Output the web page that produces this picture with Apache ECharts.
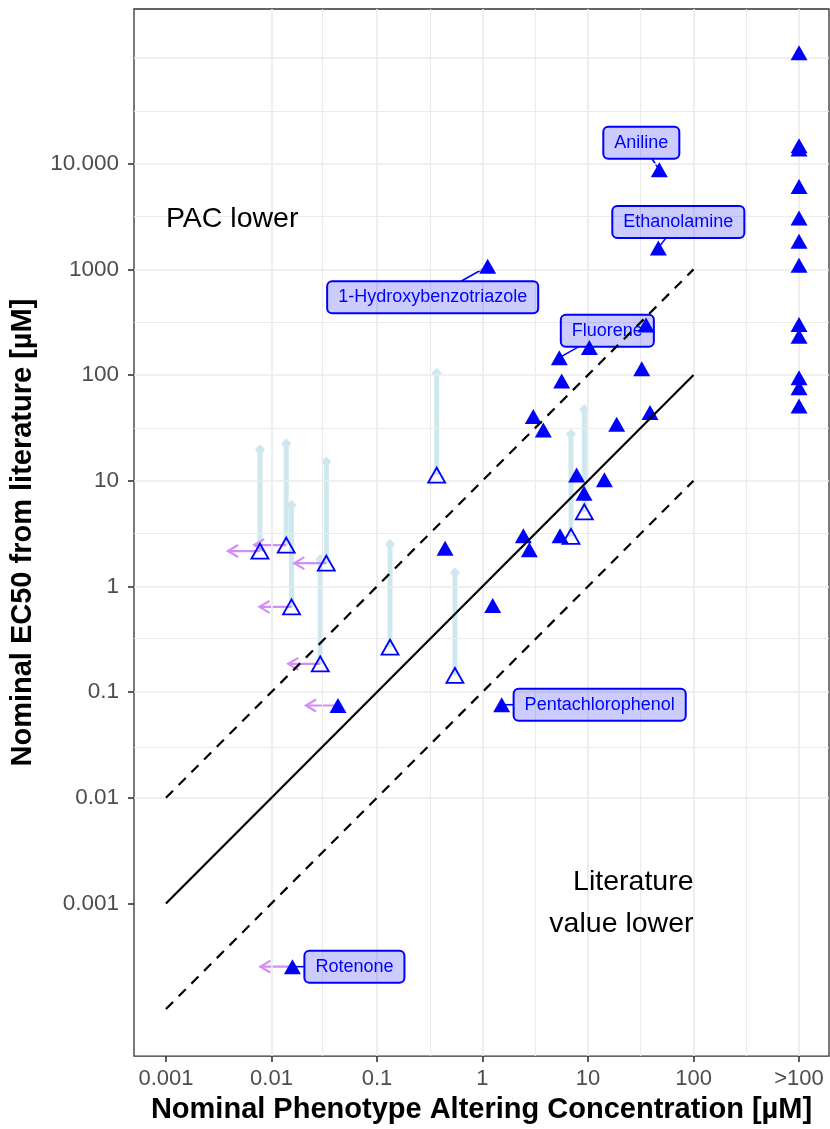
<!DOCTYPE html>
<html>
<head>
<meta charset="utf-8">
<script src="https://cdn.jsdelivr.net/npm/echarts@6/dist/echarts.min.js"></script>
<style>
  html, body { margin: 0; padding: 0; background: #ffffff; }
  #chart { width: 830px; height: 1129px; }
</style>
</head>
<body>
<div id="chart"></div>
<script>
// ---------------- DATA ----------------
// Axis ticks
const xTickValues = [0.001, 0.01, 0.1, 1, 10, 100, 1000];
const xTickLabels = ['0.001', '0.01', '0.1', '1', '10', '100', '>100'];
const yTickValues = [0.001, 0.01, 0.1, 1, 10, 100, 1000, 10000];
const yTickLabels = ['0.001', '0.01', '0.1', '1', '10', '100', '1000', '10.000'];

// Filled triangles: PAC measured (x) vs literature EC50 (y)
const filledPAC  = [0.0427, 0.0158, 0.442, 1.25, 1.52, 2.44, 2.78, 3.03, 3.77, 5.43, 7.8, 9.17, 14.3, 18.7, 38.7, 32.3, 5.63, 5.35, 10.3, 47.4, 46.4, 1.12, 35.5];
const filledEC50 = [0.0746, 0.000252, 2.29, 0.658, 0.0759, 3.01, 2.22, 40.5, 30.2, 3.01, 11.3, 7.63, 10.2, 34.2, 44.2, 115, 87.7, 146, 182, 8770, 1597, 1071, 297];
const filledNames = ['', 'Rotenone', '', '', 'Pentachlorophenol', '', '', '', '', '', '', '', '', '', '', '', '', 'Fluorene', '', 'Aniline', 'Ethanolamine', '1-Hydroxybenzotriazole', ''];
const filledPACLessThan = [true, true, false, false, false, false, false, false, false, false, false, false, false, false, false, false, false, false, false, false, false, false, false];

// PAC above tested range (">100")
const aboveRangePAC = 1000; // plotted at the ">100" tick
const aboveRangeEC50 = [112000, 14800, 13800, 6100, 3070, 1845, 1094, 301, 233, 94.5, 76.0, 50.9];

// Open triangles: literature EC50 given as a range (low .. high)
const openPAC      = [0.00778, 0.0138, 0.0155, 0.0331, 0.0290, 0.368, 0.133, 0.548, 6.9, 9.23];
const openEC50     = [2.16, 2.46, 0.640, 1.66, 0.185, 11.3, 0.266, 0.1436, 2.97, 5.08];
const openEC50High = [19.9, 22.6, 5.92, 15.2, 1.82, 105, 2.52, 1.36, 27.9, 47.4];
const openPACLessThan = [true, true, true, true, true, false, false, false, false, false];

// Reference lines
const refLineX = [0.001, 100];
const identityY = [0.001, 100];
const upperY = [0.01, 1000];
const lowerY = [0.0001, 10];

// Annotations
const annotationText = ['PAC lower', 'Literature\nvalue lower'];
const annotationX = [0.001, 100];
const annotationY = [3000, 0.001];

// Gridline breaks (major + minor midpoints in log space)
const xGridBreaks = [0.001, 0.00316, 0.01, 0.0316, 0.1, 0.316, 1, 3.16, 10, 31.6, 100, 316, 1000];
const yGridBreaks = [0.0001, 0.000316, 0.001, 0.00316, 0.01, 0.0316, 0.1, 0.316, 1, 3.16, 10, 31.6, 100, 316, 1000, 3160, 10000, 31600, 100000];

// ---------------- STYLE ----------------
const BLUE = '#0000ff';
const FONT = '"Liberation Sans", Arial, Helvetica, sans-serif';
const LABEL_FONT_SIZE = 18;
const LABEL_PAD = [7, 11];
const labelOffsets = {
  'Aniline': [-18, -27],
  'Ethanolamine': [20, -26],
  '1-Hydroxybenzotriazole': [-55, 31],
  'Fluorene': [48, -27],
  'Pentachlorophenol': [98, 0],
  'Rotenone': [62, 0]
};

const measureCtx = document.createElement('canvas').getContext('2d');
measureCtx.font = LABEL_FONT_SIZE + 'px ' + FONT;
function labelBoxSize(text) {
  return [measureCtx.measureText(text).width + 2 * LABEL_PAD[1], LABEL_FONT_SIZE + 2 * LABEL_PAD[0]];
}

function tickLabel(values, labels) {
  return function (v) {
    const e = Math.round(Math.log10(v));
    for (let i = 0; i < values.length; i++) {
      if (Math.round(Math.log10(values[i])) === e) return labels[i];
    }
    return '';
  };
}

const chart = echarts.init(document.getElementById('chart'), null, { renderer: 'canvas' });

const gridLineData = [];
xGridBreaks.forEach(function (v) {
  const major = Math.abs(Math.log10(v) - Math.round(Math.log10(v))) < 0.01;
  gridLineData.push({ xAxis: v, lineStyle: { width: major ? 1.7 : 1.1 } });
});
yGridBreaks.forEach(function (v) {
  const major = Math.abs(Math.log10(v) - Math.round(Math.log10(v))) < 0.01;
  gridLineData.push({ yAxis: v, lineStyle: { width: major ? 1.7 : 1.1 } });
});

const filledData = filledPAC.map(function (x, i) {
  const item = { value: [x, filledEC50[i]], name: filledNames[i] };
  if (filledNames[i]) item.label = { show: true };
  return item;
});
const leaderData = [];
filledPAC.forEach(function (x, i) { if (filledNames[i]) leaderData.push([x, filledEC50[i], i]); });
const aboveData = aboveRangeEC50.map(function (y) { return [aboveRangePAC, y]; });
const openData = openPAC.map(function (x, i) { return [x, openEC50[i]]; });
const rangeData = openPAC.map(function (x, i) { return [x, openEC50[i], openEC50High[i]]; });
const arrowData = [];
openPAC.forEach(function (x, i) { if (openPACLessThan[i]) arrowData.push([x, openEC50[i]]); });
filledPAC.forEach(function (x, i) { if (filledPACLessThan[i]) arrowData.push([x, filledEC50[i]]); });

const option = {
  animation: false,
  backgroundColor: '#ffffff',
  textStyle: { fontFamily: FONT },
  grid: {
    left: 134, right: 1, top: 9, bottom: 71,
    show: true, borderColor: '#333333', borderWidth: 1.3, backgroundColor: '#ffffff'
  },
  xAxis: {
    type: 'log', logBase: 10,
    min: 0.000498, max: 1923,
    name: 'Nominal Phenotype Altering Concentration [µM]',
    nameLocation: 'middle', nameGap: 36,
    nameTextStyle: { fontSize: 29, fontWeight: 'bold', color: '#000000', fontFamily: FONT },
    axisLine: { show: false },
    splitLine: { show: false },
    minorSplitLine: { show: false },
    axisTick: { show: true, customValues: xTickValues, length: 6, lineStyle: { color: '#333333', width: 1.6 } },
    axisLabel: { customValues: xTickValues, formatter: tickLabel(xTickValues, xTickLabels), fontSize: 22, color: '#4d4d4d', margin: 12, fontFamily: FONT }
  },
  yAxis: {
    type: 'log', logBase: 10,
    min: 0.0000359, max: 291000,
    name: 'Nominal EC50 from literature [µM]',
    nameLocation: 'middle', nameGap: 97,
    nameTextStyle: { fontSize: 29, fontWeight: 'bold', color: '#000000', fontFamily: FONT },
    axisLine: { show: false },
    splitLine: { show: false },
    minorSplitLine: { show: false },
    axisTick: { show: true, customValues: yTickValues, length: 6, lineStyle: { color: '#333333', width: 1.6 } },
    axisLabel: { customValues: yTickValues, formatter: tickLabel(yTickValues, yTickLabels), fontSize: 22.5, color: '#4d4d4d', margin: 15, fontFamily: FONT }
  },
  series: [
    {
      name: 'grid', type: 'line', data: [], z: 0, silent: true,
      markLine: {
        silent: true, symbol: ['none', 'none'], animation: false,
        label: { show: false },
        lineStyle: { color: '#ebebeb', type: 'solid', width: 1.5 },
        emphasis: { disabled: true },
        data: gridLineData
      }
    },
    {
      name: 'range', type: 'custom', z: 3, silent: true,
      encode: { x: 0, y: 1 },
      data: rangeData,
      renderItem: function (params, api) {
        const p0 = api.coord([api.value(0), api.value(1)]);
        const p1 = api.coord([api.value(0), api.value(2)]);
        const c = '#cfe7ef';
        return {
          type: 'group',
          children: [
            { type: 'line', shape: { x1: p0[0], y1: p0[1], x2: p1[0], y2: p1[1] }, style: { stroke: c, lineWidth: 5 } },
            { type: 'polygon', shape: { points: [[p1[0], p1[1] - 5], [p1[0] + 5, p1[1]], [p1[0] + 3, p1[1] + 3], [p1[0] - 3, p1[1] + 3], [p1[0] - 5, p1[1]]] }, style: { fill: c } }
          ]
        };
      }
    },
    {
      name: 'lessThan', type: 'custom', z: 4, silent: true,
      encode: { x: 0, y: 1 },
      data: arrowData,
      renderItem: function (params, api) {
        const p = api.coord([api.value(0), api.value(1)]);
        const tipX = p[0] - 32;
        const c = '#cf8ff6';
        return {
          type: 'group',
          children: [
            { type: 'line', shape: { x1: p[0], y1: p[1], x2: tipX, y2: p[1] }, style: { stroke: c, lineWidth: 2.2 } },
            { type: 'polyline', shape: { points: [[tipX + 10, p[1] - 6], [tipX, p[1]], [tipX + 10, p[1] + 6]] }, style: { stroke: c, lineWidth: 2.2, fill: null } }
          ]
        };
      }
    },
    {
      name: 'leaders', type: 'custom', z: 4, silent: true,
      encode: { x: 0, y: 1 },
      data: leaderData,
      renderItem: function (params, api) {
        const p = api.coord([api.value(0), api.value(1)]);
        const name = filledNames[api.value(2)];
        const off = labelOffsets[name] || [0, 0];
        const size = labelBoxSize(name);
        const cx = p[0] + off[0], cy = p[1] + off[1];
        const dx = p[0] - cx, dy = p[1] - cy;
        const s = Math.min(dx !== 0 ? (size[0] / 2) / Math.abs(dx) : Infinity,
                           dy !== 0 ? (size[1] / 2) / Math.abs(dy) : Infinity);
        const qx = cx + Math.min(s, 1) * dx, qy = cy + Math.min(s, 1) * dy;
        return { type: 'line', shape: { x1: qx, y1: qy, x2: p[0], y2: p[1] }, style: { stroke: BLUE, lineWidth: 1.6 } };
      }
    },
    {
      name: 'open', type: 'scatter', z: 5, silent: true,
      symbol: 'triangle', symbolSize: [17, 15],
      itemStyle: { color: 'rgba(255,255,255,0)', borderColor: BLUE, borderWidth: 1.8, opacity: 1 },
      data: openData
    },
    {
      name: 'above', type: 'scatter', z: 5, silent: true,
      symbol: 'triangle', symbolSize: [17, 15],
      itemStyle: { color: BLUE, opacity: 1 },
      data: aboveData
    },
    {
      name: 'filled', type: 'scatter', z: 5, silent: true,
      symbol: 'triangle', symbolSize: [17, 15],
      itemStyle: { color: BLUE, opacity: 1 },
      label: {
        show: false, position: 'inside',
        formatter: function (p) { return p.name; },
        color: BLUE, fontSize: LABEL_FONT_SIZE, fontFamily: FONT,
        backgroundColor: 'rgba(0,0,255,0.2)',
        borderColor: BLUE, borderWidth: 1, borderRadius: 5,
        padding: LABEL_PAD
      },
      labelLine: { show: false },
      labelLayout: function (params) {
        const name = filledNames[params.dataIndex];
        const off = labelOffsets[name] || [0, 0];
        return { dx: off[0], dy: off[1] };
      },
      data: filledData
    },
    {
      name: 'annotations', type: 'scatter', z: 6, silent: true,
      symbolSize: 0,
      itemStyle: { opacity: 1 },
      data: annotationText.map(function (t, i) {
        return {
          value: [annotationX[i], annotationY[i]], name: t,
          label: { align: i === 0 ? 'left' : 'right' }
        };
      }),
      label: {
        show: true, position: 'inside', formatter: function (p) { return p.name; },
        color: '#000000', fontSize: 28.5, lineHeight: 42, fontFamily: FONT, verticalAlign: 'middle'
      }
    },
    {
      name: 'identity', type: 'line', z: 10, silent: true, symbol: 'none',
      data: refLineX.map(function (x, i) { return [x, identityY[i]]; }),
      lineStyle: { color: '#000000', width: 2.2, type: 'solid' }
    },
    {
      name: 'upper', type: 'line', z: 10, silent: true, symbol: 'none',
      data: refLineX.map(function (x, i) { return [x, upperY[i]]; }),
      lineStyle: { color: '#000000', width: 2.2, type: [10, 8] }
    },
    {
      name: 'lower', type: 'line', z: 10, silent: true, symbol: 'none',
      data: refLineX.map(function (x, i) { return [x, lowerY[i]]; }),
      lineStyle: { color: '#000000', width: 2.2, type: [10, 8] }
    }
  ]
};

chart.setOption(option);
</script>
</body>
</html>
